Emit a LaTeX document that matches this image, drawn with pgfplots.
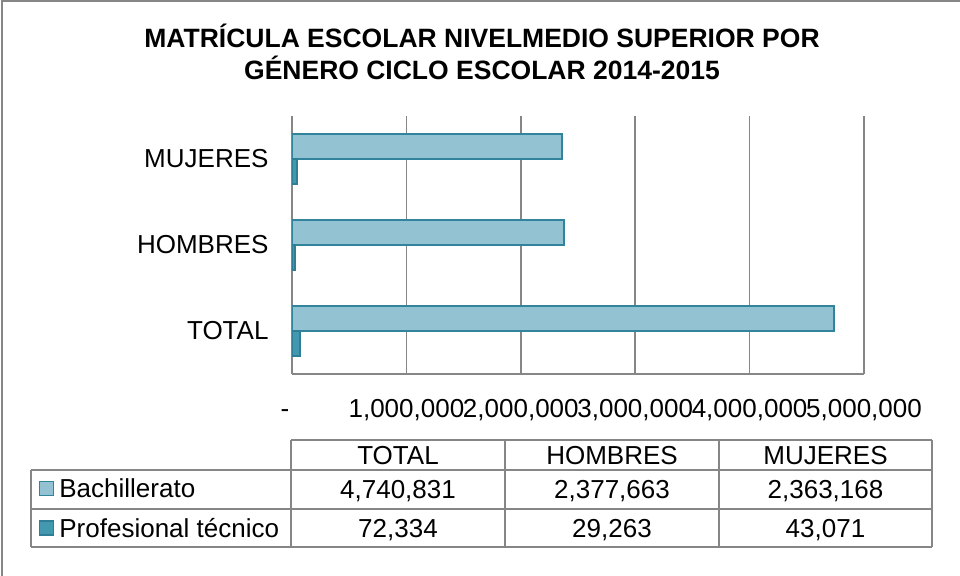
\documentclass[border=0pt]{standalone}
\usepackage{fontspec}
\setmainfont{Liberation Sans}
\usepackage{pgfplots}
\pgfplotsset{compat=1.18}

\definecolor{bachfill}{RGB}{147,195,210}
\definecolor{bachline}{RGB}{49,132,155}
\definecolor{proffill}{RGB}{65,152,175}
\definecolor{profline}{RGB}{46,127,149}
\definecolor{gridgray}{RGB}{134,134,134}
\newcommand{\bigfont}{\fontsize{26bp}{31bp}\selectfont}

\pgfplotsset{
  bachsq/.style={legend image code/.code={\draw[draw=bachline,fill=bachfill,line width=1.2bp] (0bp,-4bp) rectangle (14bp,10bp);}},
  profsq/.style={legend image code/.code={\draw[draw=profline,fill=proffill,line width=1.2bp] (0bp,-4bp) rectangle (14bp,10bp);}},
}

\begin{document}
\begin{tikzpicture}[x=1bp,y=1bp]
\path[use as bounding box] (0,0) rectangle (960,576);
% frame, only left and top edges show
\draw[gridgray, line width=1.5bp] (2,0) -- (2,575) -- (960,575);

\node[font=\fontsize{26.5bp}{32bp}\selectfont\bfseries, align=center] at (482,524)
  {MATRÍCULA ESCOLAR NIVELMEDIO SUPERIOR POR\\GÉNERO CICLO ESCOLAR 2014-2015};

\begin{axis}[
  at={(292bp,202bp)}, anchor=south west,
  scale only axis, width=572bp, height=258bp,
  xbar, bar width=25bp,
  xmin=0, xmax=5000000, ymin=-0.5, ymax=2.5,
  scaled x ticks=false,
  xtick={0,1000000,2000000,3000000,4000000,5000000},
  xticklabels={{\kern-14bp-},{1,000,000},{2,000,000},{3,000,000},{4,000,000},{5,000,000}},
  ytick={0,1,2},
  yticklabels={TOTAL,HOMBRES,MUJERES},
  major tick length=0pt,
  axis x line*=bottom, axis y line*=left,
  axis line style={gridgray, line width=1.5bp},
  xmajorgrids, grid style={gridgray, line width=1.5bp},
  tick label style={font=\bigfont},
  xticklabel style={anchor=base, yshift=-44bp},
  yticklabel style={anchor=east, xshift=-20bp},
  legend style={at={(-0.4423,-0.3984)}, anchor=north west, draw=none, fill=none,
    inner sep=0pt, row sep=10.5bp, column sep=3bp, font=\bigfont,
    nodes={inner sep=2bp, text height=19bp, text depth=6bp}},
  legend cell align=left,
]
\addplot[fill=bachfill, draw=bachline, line width=2bp, bar shift=12.5bp, bachsq]
  coordinates {(4740831,0) (2377663,1) (2363168,2)};
\addlegendentry{Bachillerato}
\addplot[fill=proffill, draw=profline, line width=2bp, bar shift=-12.5bp, profsq]
  coordinates {(72334,0) (29263,1) (43071,2)};
\addlegendentry{Profesional técnico}
\end{axis}

% data table
\begin{scope}[gridgray, line width=1.5bp]
\draw (291,136) -- (932,136);
\draw (31,106) -- (932,106);
\draw (31,67) -- (932,67);
\draw (31,29) -- (932,29);
\draw (31,106) -- (31,29);
\draw (291,136) -- (291,29);
\draw (505,136) -- (505,29);
\draw (719,136) -- (719,29);
\draw (932,136) -- (932,29);
\end{scope}
\begin{scope}[every node/.style={font=\bigfont, anchor=base, inner sep=0pt}]
\node at (398,111.7) {TOTAL};
\node at (612,111.7) {HOMBRES};
\node at (825.5,111.7) {MUJERES};
\node at (398,77.2) {4,740,831};
\node at (612,77.2) {2,377,663};
\node at (825.5,77.2) {2,363,168};
\node at (398,38.7) {72,334};
\node at (612,38.7) {29,263};
\node at (825.5,38.7) {43,071};
\end{scope}
\end{tikzpicture}
\end{document}
